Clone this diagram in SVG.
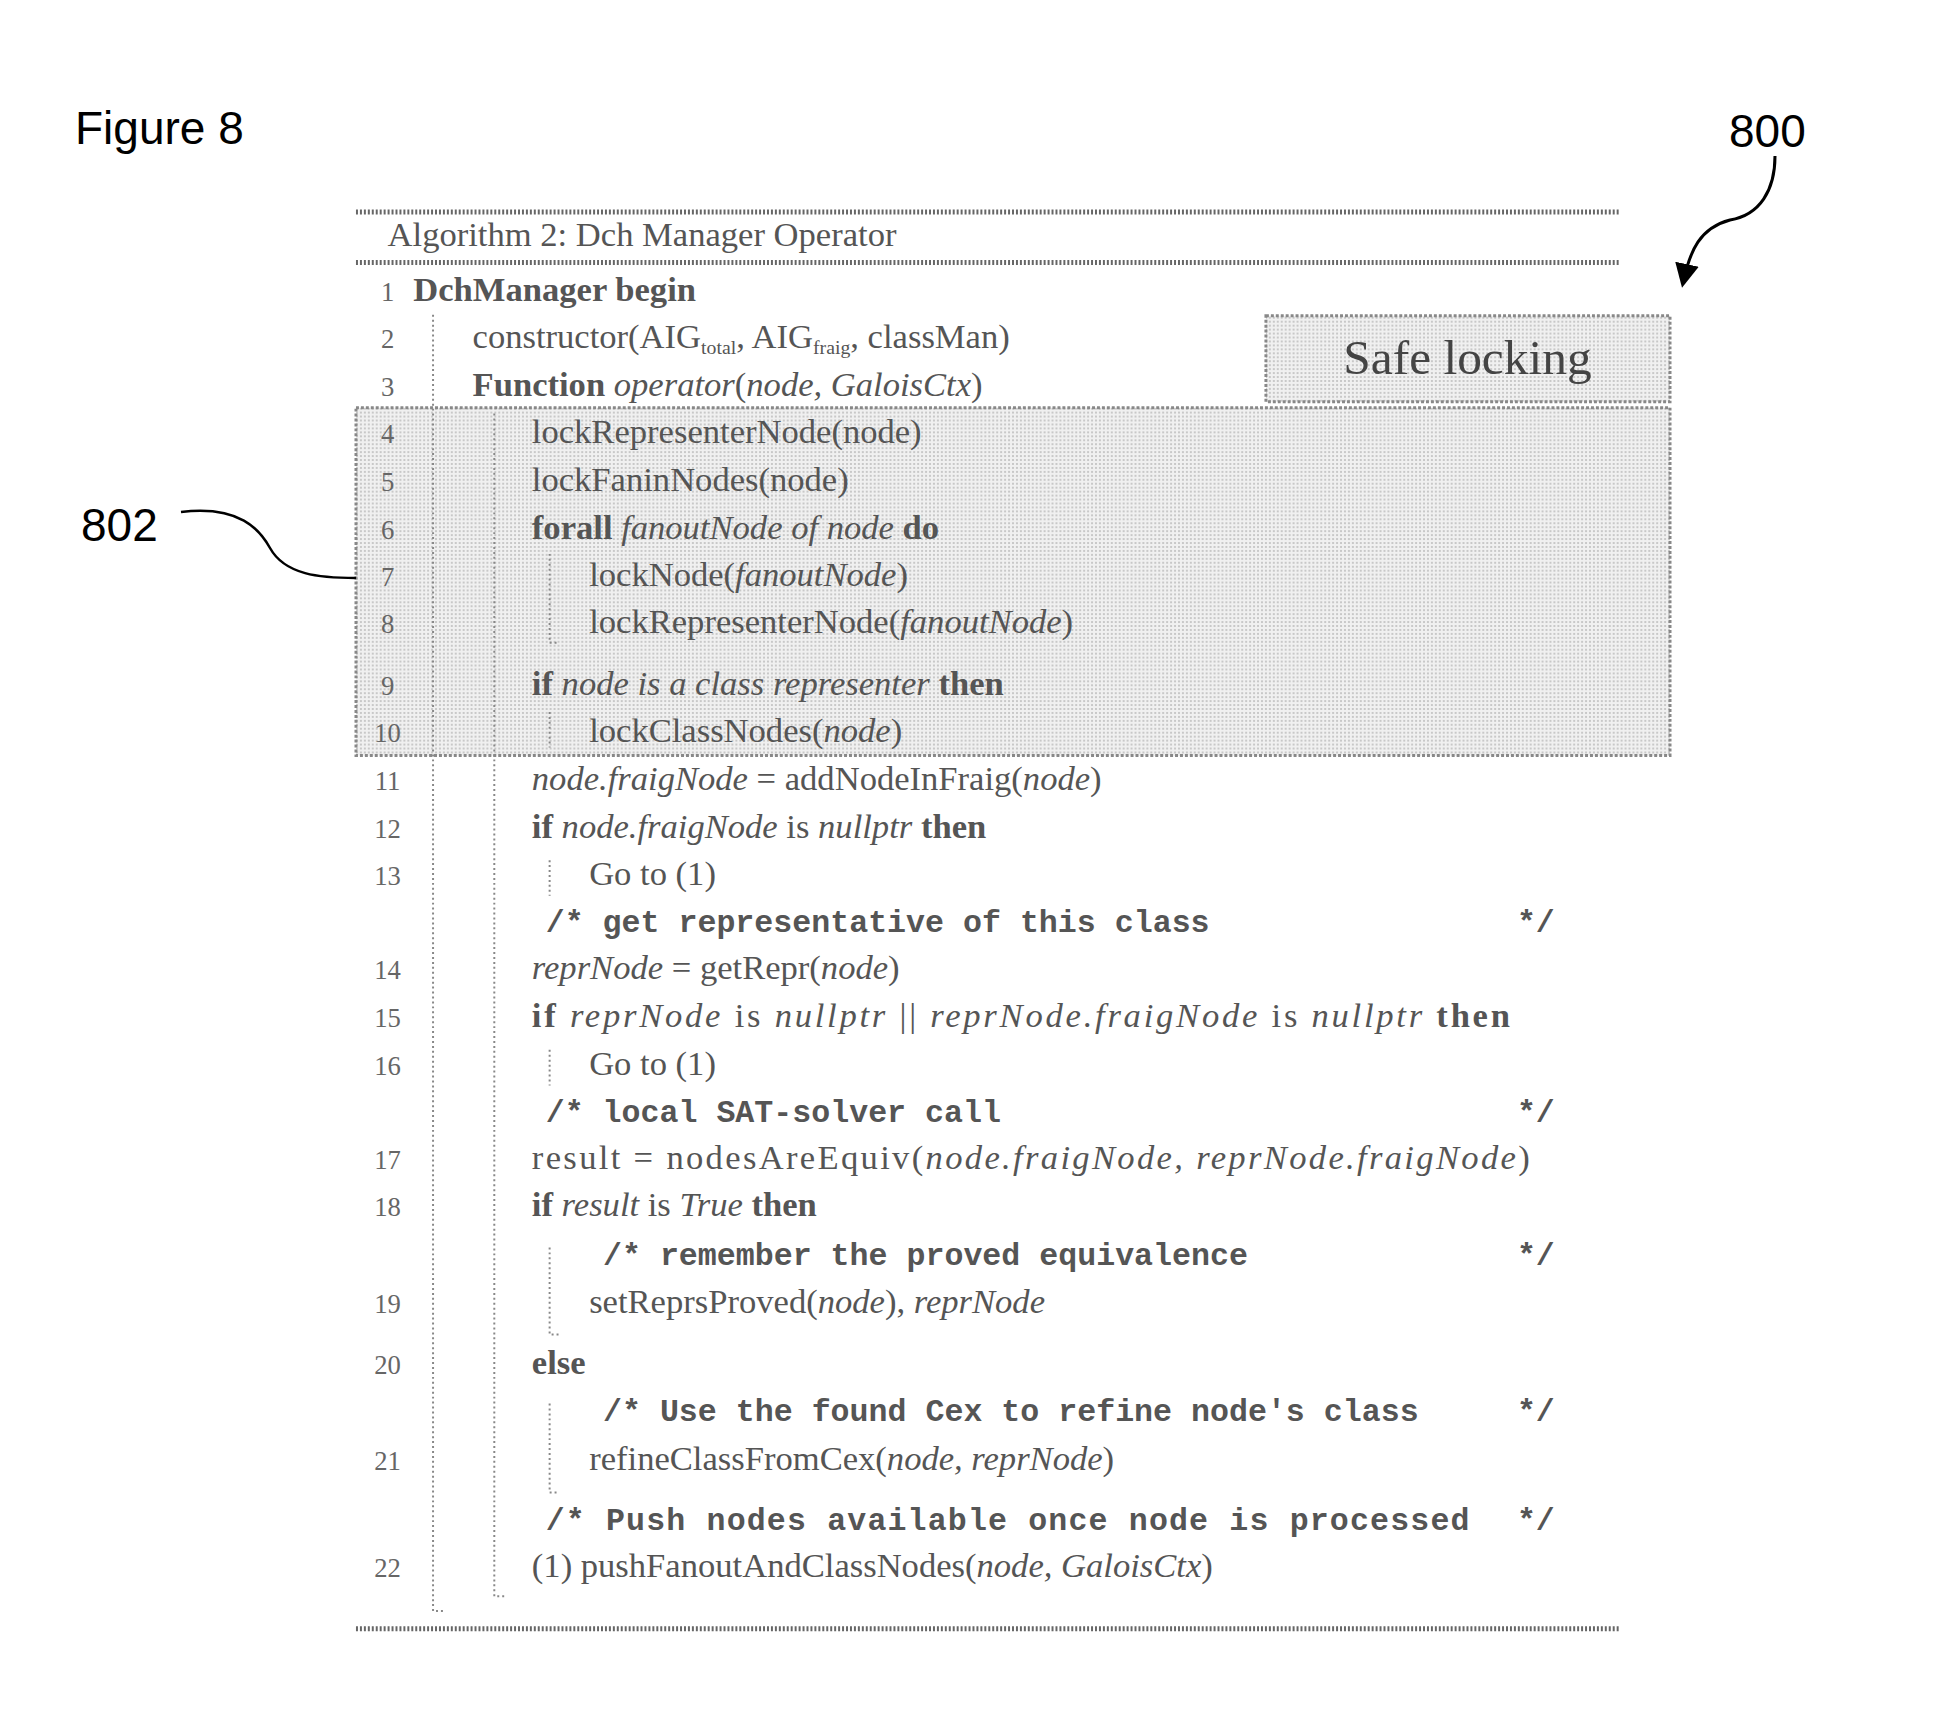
<svg xmlns="http://www.w3.org/2000/svg" width="1937" height="1727" viewBox="0 0 1937 1727">
<style>
.lbl{font-family:"Liberation Sans",Arial,sans-serif;font-size:46px;fill:#000}
.c{font-family:"Liberation Serif","Times New Roman",serif;font-size:35px;fill:#555}
.n{font-family:"Liberation Serif",serif;font-size:27px;fill:#666;text-anchor:middle}
.m{font-family:"Liberation Mono","Courier New",monospace;font-size:32px;fill:#555;font-weight:bold}
.b{font-weight:bold}
.i{font-style:italic}
.rule{stroke:#666;stroke-width:5;stroke-dasharray:2 2}
.bar{stroke:#888;stroke-width:2;stroke-dasharray:2 3;fill:none}
</style>
<defs>
<pattern id="dots" width="4" height="4" patternUnits="userSpaceOnUse"><rect width="4" height="4" fill="#f0f0f0"/><rect width="2" height="2" fill="#c8c8c8"/></pattern>
<marker id="ah" viewBox="0 0 10 10" refX="8" refY="5" markerWidth="8" markerHeight="8" orient="auto"><path d="M0,0 L10,5 L0,10 z" fill="#000"/></marker>
</defs>
<text class="lbl" x="75" y="144">Figure 8</text>
<g id="n800"><text class="lbl" x="1729" y="147">800</text></g>
<g id="n802"><text class="lbl" x="81" y="541">802</text></g>
<g transform="translate(0.3,0.6) scale(0.988)">
<g id="highlight"><rect x="360" y="412" width="1330" height="352" fill="url(#dots)" stroke="#888" stroke-width="3" stroke-dasharray="3 2"/></g>
<g id="safe"><rect x="1281" y="319" width="409" height="87" fill="url(#dots)" stroke="#888" stroke-width="3" stroke-dasharray="3 2"/>
<text x="1485" y="378" text-anchor="middle" style="font-family:'Liberation Serif',serif;font-size:50px;fill:#444">Safe locking</text></g>
<g id="algorithm">
<line class="rule" x1="360" y1="214" x2="1640" y2="214"/>
<line class="rule" x1="360" y1="265" x2="1640" y2="265"/>
<line class="rule" x1="360" y1="1648" x2="1640" y2="1648"/>
<text class="c" x="392" y="248">Algorithm 2: Dch Manager Operator</text>
<path class="bar" d="M438,318 V1630 h10"/>
<path class="bar" d="M500,418 V1615 h10"/>
<path class="bar" d="M556,560 V650 h10"/>
<path class="bar" d="M556,720 V756"/>
<path class="bar" d="M556,870 V906"/>
<path class="bar" d="M556,1062 V1098"/>
<path class="bar" d="M556,1262 V1350 h10"/>
<path class="bar" d="M556,1420 V1510 h10"/>
<g>
<text class="n" x="392" y="304">1</text><text class="c b" x="418" y="304">DchManager begin</text>
<text class="n" x="392" y="352">2</text><text class="c" x="478" y="352">constructor(AIG<tspan font-size="20" dy="6">total</tspan><tspan dy="-6">, AIG</tspan><tspan font-size="20" dy="6">fraig</tspan><tspan dy="-6">, classMan)</tspan></text>
<text class="n" x="392" y="400">3</text><text class="c" x="478" y="400"><tspan class="b">Function </tspan><tspan class="i">operator</tspan>(<tspan class="i">node, GaloisCtx</tspan>)</text>
<text class="n" x="392" y="448">4</text><text class="c" x="538" y="448">lockRepresenterNode(node)</text>
<text class="n" x="392" y="496">5</text><text class="c" x="538" y="496">lockFaninNodes(node)</text>
<text class="n" x="392" y="545">6</text><text class="c" x="538" y="545"><tspan class="b">forall </tspan><tspan class="i">fanoutNode of node</tspan><tspan class="b"> do</tspan></text>
<text class="n" x="392" y="593">7</text><text class="c" x="596" y="593">lockNode(<tspan class="i">fanoutNode</tspan>)</text>
<text class="n" x="392" y="640">8</text><text class="c" x="596" y="640">lockRepresenterNode(<tspan class="i">fanoutNode</tspan>)</text>
<text class="n" x="392" y="703">9</text><text class="c" x="538" y="703"><tspan class="b">if </tspan><tspan class="i">node is a class representer</tspan><tspan class="b"> then</tspan></text>
<text class="n" x="392" y="750">10</text><text class="c" x="596" y="750">lockClassNodes(<tspan class="i">node</tspan>)</text>
<text class="n" x="392" y="799">11</text><text class="c" x="538" y="799"><tspan class="i">node.fraigNode</tspan> = addNodeInFraig(<tspan class="i">node</tspan>)</text>
<text class="n" x="392" y="848">12</text><text class="c" x="538" y="848"><tspan class="b">if </tspan><tspan class="i">node.fraigNode</tspan> is <tspan class="i">nullptr</tspan><tspan class="b"> then</tspan></text>
<text class="n" x="392" y="895">13</text><text class="c" x="596" y="895">Go to (1)</text>
<text class="m" x="552" y="943">/* get representative of this class</text><text class="m" x="1535" y="943">*/</text>
<text class="n" x="392" y="990">14</text><text class="c" x="538" y="990"><tspan class="i">reprNode</tspan> = getRepr(<tspan class="i">node</tspan>)</text>
<text class="n" x="392" y="1039">15</text><text class="c" x="538" y="1039" textLength="990"><tspan class="b">if </tspan><tspan class="i">reprNode</tspan> is <tspan class="i">nullptr</tspan> || <tspan class="i">reprNode.fraigNode</tspan> is <tspan class="i">nullptr</tspan><tspan class="b"> then</tspan></text>
<text class="n" x="392" y="1087">16</text><text class="c" x="596" y="1087">Go to (1)</text>
<text class="m" x="552" y="1135">/* local SAT-solver call</text><text class="m" x="1535" y="1135">*/</text>
<text class="n" x="392" y="1183">17</text><text class="c" x="538" y="1183" textLength="1010">result = nodesAreEquiv(<tspan class="i">node.fraigNode, reprNode.fraigNode</tspan>)</text>
<text class="n" x="392" y="1230">18</text><text class="c" x="538" y="1230"><tspan class="b">if </tspan><tspan class="i">result</tspan> is <tspan class="i">True</tspan><tspan class="b"> then</tspan></text>
<text class="m" x="610" y="1280">/* remember the proved equivalence</text><text class="m" x="1535" y="1280">*/</text>
<text class="n" x="392" y="1328">19</text><text class="c" x="596" y="1328">setReprsProved(<tspan class="i">node</tspan>), <tspan class="i">reprNode</tspan></text>
<text class="n" x="392" y="1390">20</text><text class="c b" x="538" y="1390">else</text>
<text class="m" x="610" y="1438">/* Use the found Cex to refine node's class</text><text class="m" x="1535" y="1438">*/</text>
<text class="n" x="392" y="1487">21</text><text class="c" x="596" y="1487">refineClassFromCex(<tspan class="i">node, reprNode</tspan>)</text>
<text class="m" x="552" y="1548" textLength="935">/* Push nodes available once node is processed</text><text class="m" x="1535" y="1548">*/</text>
<text class="n" x="392" y="1596">22</text><text class="c" x="538" y="1596">(1) pushFanoutAndClassNodes(<tspan class="i">node, GaloisCtx</tspan>)</text>
</g>
</g>
</g>
<g id="connectors">
<path d="M181,512 C240,505 260,530 270,548 C285,575 320,578 356,578" fill="none" stroke="#000" stroke-width="2.5"/>
<path d="M1775,156 C1775,190 1760,215 1730,220 C1700,228 1690,250 1683,283" fill="none" stroke="#000" stroke-width="3" marker-end="url(#ah)"/>
</g>
</svg>
